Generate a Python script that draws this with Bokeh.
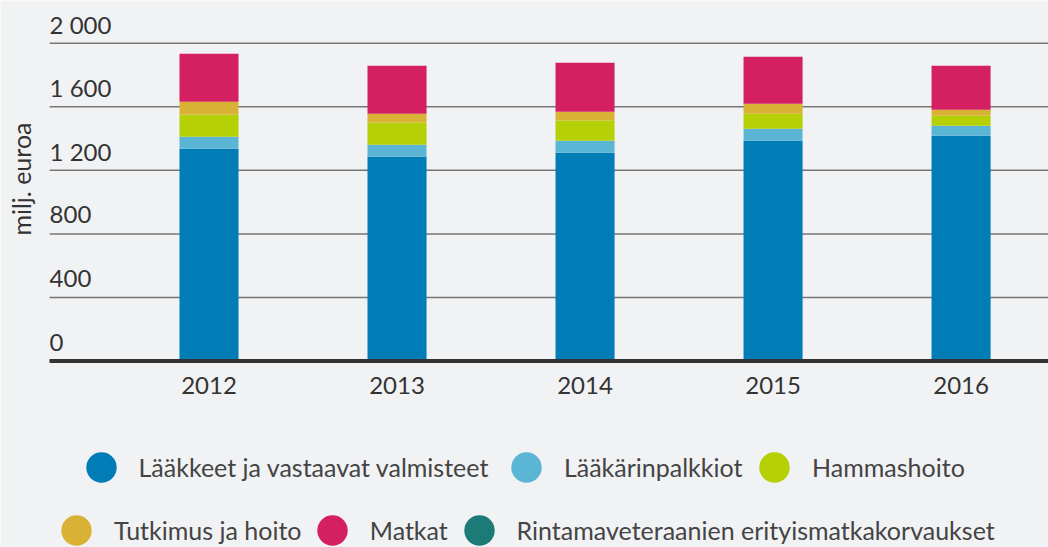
import math
from bokeh.plotting import figure
from bokeh.models import Range1d, Legend, LegendItem, ColumnDataSource
from bokeh.core.properties import value
from bokeh.embed import file_html
from bokeh.resources import INLINE

years = ["2012", "2013", "2014", "2015", "2016"]
laakkeet = [1336, 1285, 1310, 1386, 1418]
laakari = [75, 76, 76, 76, 63]
hammas = [141, 140, 128, 94, 63]
tutkimus = [80, 55, 55, 63, 37]
matkat = [302, 302, 308, 296, 277]
rintama = [0, 0, 0, 0, 0]

series_names = ["Lääkkeet ja vastaavat valmisteet", "Lääkärinpalkkiot", "Hammashoito",
                "Tutkimus ja hoito", "Matkat", "Rintamaveteraanien erityismatkakorvaukset"]
colors = ["#007cb6", "#5bb6d5", "#b5d004", "#d9b235", "#d41f61", "#1c7b77"]
y_ticks = [0, 400, 800, 1200, 1600, 2000]
y_tick_labels = ["0", "400", "800", "1 200", "1 600", "2 000"]
y_title = "milj. euroa"

BG = "#f1f2f4"
TXT = "#333333"
LEG_TXT = "#444444"
FONT = "Lato"

# layout constants (data units chosen so the frame fills the whole canvas)
X_START, X_END = -1.109, 4.465
Y_START, Y_END = -1173.6, 2268.7
GRID_X0 = -0.848
YLABEL_X, YLABEL_Y = -1.002, 1145

# legend item anchors in screen pixels (left edge of glyph box, bottom of box)
LEG_GW, LEG_GH = 76, 78
legend_pos = [(62.5, 40.8), (487.9, 40.8), (736.1, 40.8),
              (38.0, -22.0), (293.8, -22.0), (440.6, -22.0)]

keys = ["s0", "s1", "s2", "s3", "s4", "s5"]
idx = list(range(len(years)))
source = ColumnDataSource(dict(x=idx, s0=laakkeet, s1=laakari, s2=hammas,
                               s3=tutkimus, s4=matkat, s5=rintama))

p = figure(width=1048, height=547, output_backend="svg", toolbar_location=None,
           x_range=Range1d(X_START, X_END), y_range=Range1d(Y_START, Y_END),
           min_border_left=0, min_border_right=0, min_border_top=0, min_border_bottom=0)
p.background_fill_color = BG
p.border_fill_color = BG
p.outline_line_color = None
p.xaxis.visible = False
p.yaxis.visible = False
p.grid.visible = False

# grid lines
gsrc = ColumnDataSource(dict(x0=[GRID_X0] * len(y_ticks), x1=[X_END] * len(y_ticks), y=y_ticks))
p.segment(x0="x0", y0="y", x1="x1", y1="y", source=gsrc, line_color="#767676", line_width=1.5)

bars = p.vbar_stack(keys, x="x", width=0.314, color=colors, line_color=None, source=source)

# baseline
p.segment(x0=[GRID_X0], y0=[0], x1=[X_END], y1=[0], line_color="#333333", line_width=4)

# y tick labels above the grid lines
tsrc = ColumnDataSource(dict(x=[GRID_X0] * len(y_ticks), y=y_ticks, t=y_tick_labels))
p.text(x="x", y="y", text="t", source=tsrc, text_align="left", text_baseline="alphabetic",
       y_offset=-19, text_font=value(FONT), text_font_size="24px", text_color=TXT)

# x category labels
xsrc = ColumnDataSource(dict(x=idx, y=[0] * len(idx), t=years))
p.text(x="x", y="y", text="t", source=xsrc, text_align="center", text_baseline="alphabetic",
       y_offset=24.5, text_font=value(FONT), text_font_size="24px", text_color=TXT)

# y axis title
p.text(x=[YLABEL_X], y=[YLABEL_Y], text=[y_title], angle=math.pi / 2, text_align="center",
       text_baseline="middle", text_font=value(FONT), text_font_size="25px", text_color=TXT)

# legend markers: zero-size scatter on the data, drawn visibly only in the legend
dots = [p.scatter(x="x", y=k, size=0, fill_color=c, line_color=None, source=source)
        for k, c in zip(keys, colors)]

for i, loc in enumerate(legend_pos):
    leg = Legend(items=[LegendItem(label=series_names[i], renderers=[dots[i]])],
                 orientation="horizontal", location=loc, glyph_width=LEG_GW, glyph_height=LEG_GH,
                 spacing=0, label_standoff=0, padding=0, margin=0,
                 background_fill_alpha=0, border_line_alpha=0,
                 label_text_font=FONT, label_text_font_size="25px", label_text_color=LEG_TXT)
    p.add_layout(leg, "center")

html = file_html(p, INLINE)
html = html.replace("<body>", '<body style="background-color:%s;">' % BG, 1)
open("out.html", "w").write(html)
